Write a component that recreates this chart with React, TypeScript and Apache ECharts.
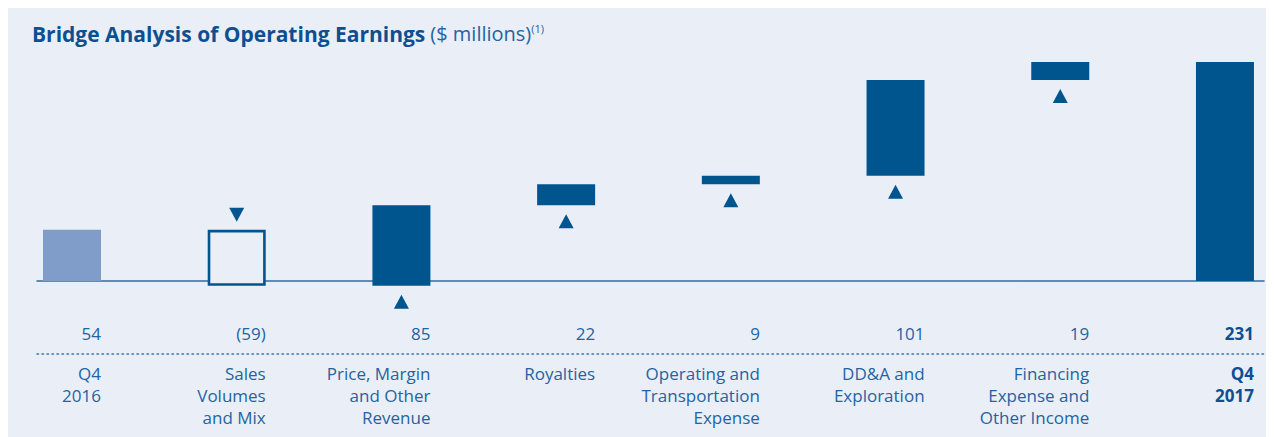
import React, { useEffect, useRef } from "react";
import * as echarts from "echarts";

const categories = [
  "Q4\n2016",
  "Sales\nVolumes\nand Mix",
  "Price, Margin\nand Other\nRevenue",
  "Royalties",
  "Operating and\nTransportation\nExpense",
  "DD&A and\nExploration",
  "Financing\nExpense and\nOther Income",
  "Q4\n2017",
];
const values = [54, -59, 85, 22, 9, 101, 19, 231];
const valueLabels = ["54", "(59)", "85", "22", "9", "101", "19", "231"];
const kinds = ["start", "delta", "delta", "delta", "delta", "delta", "delta", "end"];
const tickPositions = [0, 1, 2, 3, 4, 5, 6, 7];

const BG = "#EAEFF7";
const DARK = "#00558F";
const LIGHT = "#7F9DC8";
const TEXT = "#2463A2";
const FONT = "'Open Sans', sans-serif";

function buildBridge() {
  const out: number[][] = [];
  let running = 0;
  values.forEach((v, i) => {
    const k = kinds[i];
    if (k === "start" || k === "end") {
      out.push([i, 0, v, k === "start" ? 0 : 3]);
      running = v;
    } else {
      const a = running;
      const b = running + v;
      out.push([i, Math.min(a, b), Math.max(a, b), v >= 0 ? 1 : 2]);
      running = b;
    }
  });
  return out;
}

export default function App() {
  const ref = useRef<HTMLDivElement>(null);
  useEffect(() => {
    if (!ref.current) return;
    const chart = echarts.init(ref.current, undefined, { renderer: "svg" });
    const bridge = buildBridge();
    const lineRich = {
      n: { fontFamily: FONT, fontSize: 17, lineHeight: 22, color: TEXT, fontWeight: "normal" },
      b: { fontFamily: FONT, fontSize: 17, lineHeight: 22, color: "#0D4F91", fontWeight: "bold" },
    };
    const option: any = {
      animation: false,
      backgroundColor: BG,
      title: {
        left: 19,
        top: 10,
        text: "{b|Bridge Analysis of Operating Earnings} {n|($ millions)}{s|(1)}",
        textStyle: {
          fontWeight: "normal",
          rich: {
            b: { fontFamily: FONT, fontSize: 21, fontWeight: "bold", color: "#0D4F91" },
            n: { fontFamily: FONT, fontSize: 20, fontWeight: "normal", color: "#2463A2" },
            s: { fontFamily: FONT, fontSize: 11, fontWeight: "normal", color: "#2463A2", verticalAlign: "top", padding: [0, 0, 10, 0] },
          },
        },
      },
      grid: { left: 29, right: 10, top: 41.7, bottom: 83 },
      xAxis: [
        {
          type: "value",
          min: -0.2125,
          max: 7.237,
          position: "bottom",
          axisLine: { show: true, onZero: true, lineStyle: { color: "#2F6BA8", width: 1.5 } },
          axisTick: { show: false },
          axisLabel: { show: false },
          splitLine: { show: false },
        },
        {
          type: "value",
          min: -0.3886,
          max: 7.0607,
          position: "bottom",
          axisLine: { show: true, onZero: false, lineStyle: { color: "#3A74B0", width: 1.5, type: [1.5, 3.5] } },
          axisTick: { show: false },
          splitLine: { show: false },
          axisLabel: {
            show: true,
            customValues: tickPositions,
            align: "right",
            margin: 8,
            formatter: (v: number) => {
              const i = Math.round(v);
              const style = kinds[i] === "end" ? "b" : "n";
              return categories[i]
                .split("\n")
                .map((s) => `{${style}|${s}}`)
                .join("\n");
            },
            rich: lineRich,
          },
        },
        {
          type: "value",
          min: -0.3886,
          max: 7.0607,
          position: "bottom",
          axisLine: { show: false, onZero: false },
          axisTick: { show: false },
          splitLine: { show: false },
          axisLabel: {
            show: true,
            inside: true,
            customValues: tickPositions,
            align: "right",
            margin: 10,
            formatter: (v: number) => {
              const i = Math.round(v);
              const style = kinds[i] === "end" ? "b" : "n";
              return `{${style}|${valueLabels[i]}}`;
            },
            rich: lineRich,
          },
        },
      ],
      yAxis: {
        type: "value",
        min: -77,
        max: 244,
        axisLine: { show: false },
        axisTick: { show: false },
        axisLabel: { show: false },
        splitLine: { show: false },
      },
      series: [
        {
          type: "custom",
          xAxisIndex: 0,
          yAxisIndex: 0,
          data: bridge,
          renderItem: (params: any, api: any) => {
            const i = api.value(0);
            const low = api.value(1);
            const high = api.value(2);
            const kind = api.value(3);
            const pLow = api.coord([i, low]);
            const pHigh = api.coord([i, high]);
            const bw = 58;
            const cx = pLow[0];
            const x = cx - bw / 2;
            const children: any[] = [];
            if (kind === 2) {
              const lw = 2.6;
              children.push({
                type: "rect",
                shape: { x: x + lw / 2, y: pHigh[1] + lw / 2, width: bw - lw, height: pLow[1] - pHigh[1] - lw },
                style: { fill: BG, stroke: DARK, lineWidth: lw },
              });
              const tip = pHigh[1] - 8;
              children.push({
                type: "polygon",
                shape: { points: [[cx - 7.5, tip - 14], [cx + 7.5, tip - 14], [cx, tip]] },
                style: { fill: DARK },
              });
            } else {
              children.push({
                type: "rect",
                shape: { x, y: pHigh[1], width: bw, height: pLow[1] - pHigh[1] },
                style: { fill: kind === 0 ? LIGHT : DARK },
              });
              if (kind === 1) {
                const tip = pLow[1] + 9;
                children.push({
                  type: "polygon",
                  shape: { points: [[cx - 7.5, tip + 14], [cx + 7.5, tip + 14], [cx, tip]] },
                  style: { fill: DARK },
                });
              }
            }
            return { type: "group", children };
          },
        },
      ],
    };
    chart.setOption(option);
    return () => chart.dispose();
  }, []);
  return <div ref={ref} style={{ width: 1266, height: 429, background: BG }} />;
}
